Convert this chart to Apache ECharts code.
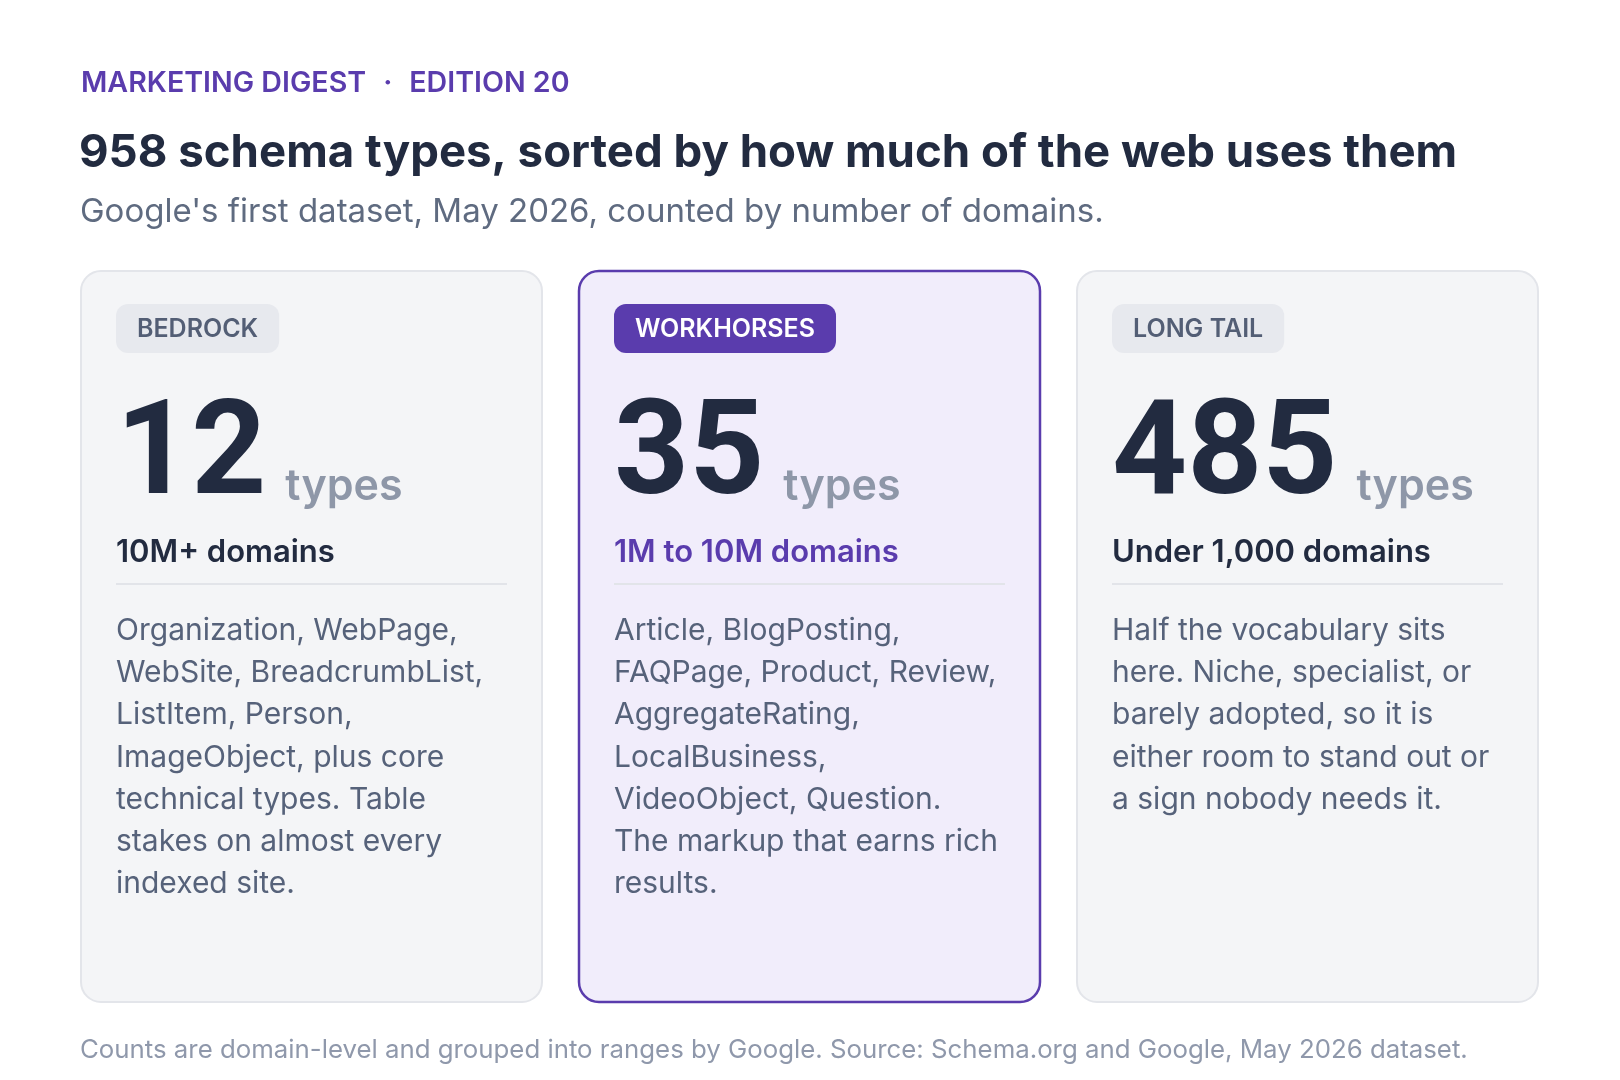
<!DOCTYPE html>
<html>
<head>
<meta charset="utf-8">
<script src="https://cdn.jsdelivr.net/npm/echarts@6/dist/echarts.min.js"></script>
<style>
  html, body { margin: 0; padding: 0; background: #ffffff; }
  #chart { width: 1620px; height: 1080px; }
</style>
</head>
<body>
<div id="chart"></div>
<script>
// tiers of schema.org types, by number of domains using them
var tierNames = ['BEDROCK', 'WORKHORSES', 'LONG TAIL']
var tierCounts = [12, 35, 485]
var tierRanges = ['10M+ domains', '1M to 10M domains', 'Under 1,000 domains']
var tierNotes = [
  ['Organization, WebPage,', 'WebSite, BreadcrumbList,', 'ListItem, Person,', 'ImageObject, plus core', 'technical types. Table', 'stakes on almost every', 'indexed site.'],
  ['Article, BlogPosting,', 'FAQPage, Product, Review,', 'AggregateRating,', 'LocalBusiness,', 'VideoObject, Question.', 'The markup that earns rich', 'results.'],
  ['Half the vocabulary sits', 'here. Niche, specialist, or', 'barely adopted, so it is', 'either room to stand out or', 'a sign nobody needs it.']
]
var featured = 1
var kicker = ['MARKETING DIGEST', 'EDITION 20']

var FONT = 'Inter, "Noto Sans", sans-serif'
var NUMFONT = 'Roboto, Inter, sans-serif'
var PURPLE = '#5a3cad'
var INK = '#222b40'

var ctx = document.createElement('canvas').getContext('2d')
function measure (str, size, weight, family) {
  ctx.font = weight + ' ' + size + 'px ' + (family || FONT)
  return ctx.measureText(str).width
}

// text placed by its alphabetic baseline
function txt (str, x, base, size, weight, color, family) {
  return {
    type: 'text',
    style: {
      text: str,
      x: x,
      y: base - 0.3 * size,
      fontSize: size,
      fontWeight: weight,
      fontFamily: family || FONT,
      fill: color,
      verticalAlign: 'middle',
      align: 'left'
    }
  }
}

function renderCard (params, api) {
  var i = params.dataIndex
  var top = api.coord([api.value(0), 1])
  var bottom = api.coord([api.value(0), 0])
  var band = api.size([1, 0])[0]
  var gap = 37
  var x = top[0] - band / 2
  var y = top[1]
  var w = band - gap
  var h = bottom[1] - top[1]
  var hot = i === featured
  var kids = []

  kids.push({
    type: 'rect',
    shape: { x: x, y: y, width: w, height: h, r: 20 },
    style: { fill: hot ? '#f1edfb' : '#f4f5f7', stroke: hot ? PURPLE : '#e3e5ea', lineWidth: hot ? 2.5 : 2 }
  })

  var pillW = measure(tierNames[i], 25, 600) + 42
  kids.push({
    type: 'rect',
    shape: { x: x + 35, y: y + 33, width: pillW, height: 49, r: 12 },
    style: { fill: hot ? PURPLE : '#e7e9ee' }
  })
  kids.push(txt(tierNames[i], x + 56, y + 66, 25, 600, hot ? '#ffffff' : '#535e75'))

  var num = String(tierCounts[i])
  var numW = measure(num, 131, 700, NUMFONT)
  kids.push(txt(num, x + 35, y + 229, 131, 700, INK, NUMFONT))
  kids.push(txt('types', x + 35 + numW + 19, y + 229, 43, 600, '#8e97a8'))

  kids.push(txt(tierRanges[i], x + 35, y + 291, 31, 600, hot ? PURPLE : INK))

  kids.push({
    type: 'line',
    shape: { x1: x + 35, y1: y + 313, x2: x + 426, y2: y + 313 },
    style: { stroke: '#e2e4e9', lineWidth: 2 }
  })

  tierNotes[i].forEach(function (line, k) {
    kids.push(txt(line, x + 35, y + 369 + k * 42.2, 30, 400, '#56627a'))
  })

  return { type: 'group', children: kids }
}

// kicker pieces with a centred dot between them
var kx = 81
var ks = 28.6
var k1 = measure(kicker[0], ks, 600)
var dotX = kx + k1 + 17
var k2x = dotX + measure('\u00b7', ks, 600) + 17

var chart = echarts.init(document.getElementById('chart'), null, { renderer: 'canvas' })
var option = {
  backgroundColor: '#ffffff',
  animation: false,
  grid: { left: 81, right: 45, top: 271, bottom: 78 },
  xAxis: { type: 'category', data: tierNames, show: false },
  yAxis: { type: 'value', min: 0, max: 1, show: false },
  graphic: [
    txt(kicker[0], kx, 92, ks, 600, PURPLE),
    txt('\u00b7', dotX, 92, ks, 600, PURPLE),
    txt(kicker[1], k2x, 92, ks, 600, PURPLE),
    txt('958 schema types, sorted by how much of the web uses them', 79, 167, 45.6, 700, INK),
    txt("Google's first dataset, May 2026, counted by number of domains.", 80, 222, 33, 400, '#5f6b80'),
    txt('Counts are domain-level and grouped into ranges by Google. Source: Schema.org and Google, May 2026 dataset.', 80, 1058, 25.8, 400, '#8f98ab')
  ],
  series: [{
    type: 'custom',
    renderItem: renderCard,
    data: tierNames.map(function (n, i) { return [i, tierCounts[i]] })
  }]
}
chart.setOption(option)
</script>
</body>
</html>
